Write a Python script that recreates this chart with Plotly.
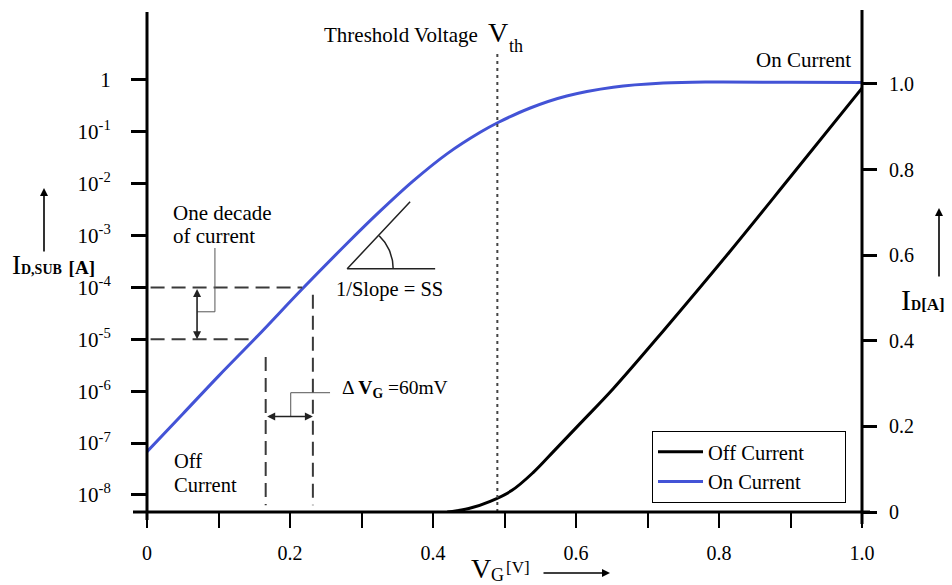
import numpy as np
import plotly.graph_objects as go

# ---------------- data ----------------
vg_on = [0.0, 0.05, 0.10, 0.155, 0.217, 0.28, 0.326, 0.372, 0.42, 0.466, 0.491,
         0.536, 0.587, 0.652, 0.722, 0.787, 0.90, 1.0]
id_sub = [6.8e-8, 3.63e-7, 1.95e-6, 1.17e-5, 9.3e-5, 7.1e-4, 2.95e-3, 1.12e-2, 3.8e-2,
          9.8e-2, 0.151, 0.288, 0.49, 0.724, 0.871, 0.912, 0.90, 0.89]
vg_off = [0.42, 0.45, 0.48, 0.51, 0.54, 0.57, 0.606, 0.652, 0.722, 0.815, 0.90, 1.0]
id_lin = [0.0, 0.008, 0.025, 0.050, 0.092, 0.144, 0.207, 0.288, 0.423, 0.608, 0.783, 0.99]

x_ticks = [0, 0.1, 0.2, 0.3, 0.4, 0.5, 0.6, 0.7, 0.8, 0.9, 1.0]
x_ticktext = ["0", "", "0.2", "", "0.4", "", "0.6", "", "0.8", "", "1.0"]
left_ticks = [1, 1e-1, 1e-2, 1e-3, 1e-4, 1e-5, 1e-6, 1e-7, 1e-8]
left_ticktext = ["1"] + ["10<sup>-%d</sup>" % k for k in range(1, 9)]
right_ticks = [0, 0.2, 0.4, 0.6, 0.8, 1.0]
right_ticktext = ["0", "0.2", "0.4", "0.6", "0.8", "1.0"]

v_th = 0.49
decade_hi, decade_lo = 1e-4, 1e-5
dv_lo, dv_hi = 0.166, 0.232

FONT = "Liberation Serif"
BLUE = "#4353D6"
DASH = "#3a3a3a"
PAD = "\u00a0" * 7

fig = go.Figure()

# main curves
fig.add_trace(go.Scatter(x=vg_off, y=id_lin, yaxis="y2", mode="lines",
                         line=dict(color="black", width=3, shape="spline", smoothing=1),
                         name="Off Current" + PAD))
fig.add_trace(go.Scatter(x=vg_on, y=id_sub, yaxis="y", mode="lines",
                         line=dict(color=BLUE, width=3, shape="spline", smoothing=1),
                         name="On Current" + PAD))

def deco(x, y, yaxis="y", **line):
    fig.add_trace(go.Scatter(x=x, y=y, yaxis=yaxis, mode="lines", showlegend=False,
                             hoverinfo="skip", line=line))

# threshold voltage dotted line
deco([v_th, v_th], [0, 1.079], yaxis="y2", color="#444", width=2, dash="3px,4px")

# decade dashed lines
deco([0.005, 0.217], [decade_hi, decade_hi], color=DASH, width=2, dash="14px,7px")
deco([0.005, 0.147], [decade_lo, decade_lo], color=DASH, width=2, dash="14px,7px")
deco([dv_lo, dv_lo], [10**-5.34, 10**-8.2], color=DASH, width=2, dash="14px,7px")
deco([dv_hi, dv_hi], [10**-4.14, 10**-8.2], color=DASH, width=2, dash="14px,7px")

# leader lines
deco([0.070, 0.095, 0.095], [10**-4.47, 10**-4.47, 10**-3.24], color="#555", width=1)
deco([0.201, 0.201, 0.256], [10**-6.49, 10**-6.03, 10**-6.03], color="#555", width=1)

# slope triangle
deco([0.403, 0.280, 0.368], [10**-3.64, 10**-3.64, 10**-2.35], color="#222", width=1.5)
t = np.linspace(0, np.deg2rad(46), 30)
deco(list(0.280 + 0.0643 * np.cos(t)), list(10 ** (-3.64 + 0.886 * np.sin(t))),
     color="#222", width=1.5)

def px(xp):
    return (xp - 147) / 715

def py(yp):
    return (512 - yp) / 500

ann = []
def text(s, xp, yp, size=18, xanchor="center", yanchor="middle", **kw):
    ann.append(dict(text=s, x=px(xp), y=py(yp), xref="paper", yref="paper",
                    showarrow=False, xanchor=xanchor, yanchor=yanchor,
                    font=dict(family=FONT, size=size, color="black"), **kw))

text("Threshold Voltage", 480, 35, 21, xanchor="right")
text("V", 498, 32, 28)
text("th", 516, 46, 18)
text("On Current", 803, 60, 21)
text("One decade", 171, 213, 21, xanchor="left")
text("of current", 171, 236, 21, xanchor="left")
text("1/Slope = SS", 334, 289, 20.5, xanchor="left")
text("Δ <b>V</b><sub><b>G</b></sub> =60mV", 340, 389, 19.5, xanchor="left")
text("Off", 172, 461, 20.5, xanchor="left")
text("Current", 172, 485, 20.5, xanchor="left")
# axis titles
text("I<b><span style='font-size:14px'>D,SUB</span> <span style='font-size:19px'>[A]</span></b>",
     10, 265, 27, xanchor="left")
text("I<b><span style='font-size:14px'>D</span><span style='font-size:17px'>[A]</span></b>",
     899, 299, 30, xanchor="left")
text("V", 481, 568, 28)
text("G", 497, 575, 18)
text("[V]", 518, 567, 17)

def arrow(xh, yh, ax, ay):
    ann.append(dict(text="", x=px(xh), y=py(yh), xref="paper", yref="paper",
                    showarrow=True, ax=ax, ay=ay, arrowhead=2, arrowsize=1,
                    arrowwidth=1.6, arrowcolor="black"))

arrow(44, 188, 0, 65)
arrow(939, 208, 0, 70)
arrow(610, 573, -68, 0)

# double arrows (data coordinates, log axis uses exponents)
ann.append(dict(text="", x=0.070, y=np.log10(decade_lo), ax=0.070, ay=np.log10(decade_hi),
                xref="x", yref="y", axref="x", ayref="y", showarrow=True,
                arrowside="end+start", arrowhead=2, arrowsize=1, arrowwidth=1.6,
                arrowcolor="#222", standoff=0, startstandoff=0))
ann.append(dict(text="", x=dv_hi, y=-6.49, ax=dv_lo, ay=-6.49,
                xref="x", yref="y", axref="x", ayref="y", showarrow=True,
                arrowside="end+start", arrowhead=2, arrowsize=1, arrowwidth=1.6,
                arrowcolor="#222", standoff=0, startstandoff=0))

shapes = [
    dict(type="line", xref="paper", yref="paper", x0=0, x1=0, y0=py(520), y1=py(12),
         line=dict(color="black", width=3)),
    dict(type="line", xref="paper", yref="paper", x0=1, x1=1, y0=py(524), y1=py(10),
         line=dict(color="black", width=3)),
    dict(type="line", xref="paper", yref="paper", x0=px(133), x1=px(870), y0=0, y1=0,
         line=dict(color="black", width=3)),
]

fig.update_layout(
    width=952, height=585,
    margin=dict(l=147, r=90, t=12, b=73),
    paper_bgcolor="white", plot_bgcolor="white",
    font=dict(family=FONT, size=18, color="black"),
    showlegend=True,
    legend=dict(x=px(652), y=py(431), xanchor="left", yanchor="top",
                bgcolor="white", bordercolor="black", borderwidth=1,
                font=dict(family=FONT, size=20.5), itemwidth=45,
                tracegroupgap=0),
    xaxis=dict(range=[0, 1], tickvals=x_ticks, ticktext=x_ticktext,
               ticks="outside", ticklen=15, tickwidth=2, tickcolor="black",
               showgrid=False, zeroline=False, showline=False,
               tickfont=dict(family=FONT, size=20), ticklabelstandoff=8),
    yaxis=dict(type="log", range=[-8.33, 1.31], tickvals=left_ticks,
               ticktext=left_ticktext, ticks="outside", ticklen=15, tickwidth=3,
               tickcolor="black", showgrid=False, zeroline=False, showline=False,
               tickfont=dict(family=FONT, size=21), ticklabelstandoff=16),
    yaxis2=dict(range=[0, 1.168], overlaying="y", side="right", tickvals=right_ticks,
                ticktext=right_ticktext, ticks="outside", ticklen=14, tickwidth=3,
                tickcolor="black", showgrid=False, zeroline=False, showline=False,
                tickfont=dict(family=FONT, size=20), ticklabelstandoff=8),
    annotations=ann,
    shapes=shapes,
)

fig.write_html("out.html")
